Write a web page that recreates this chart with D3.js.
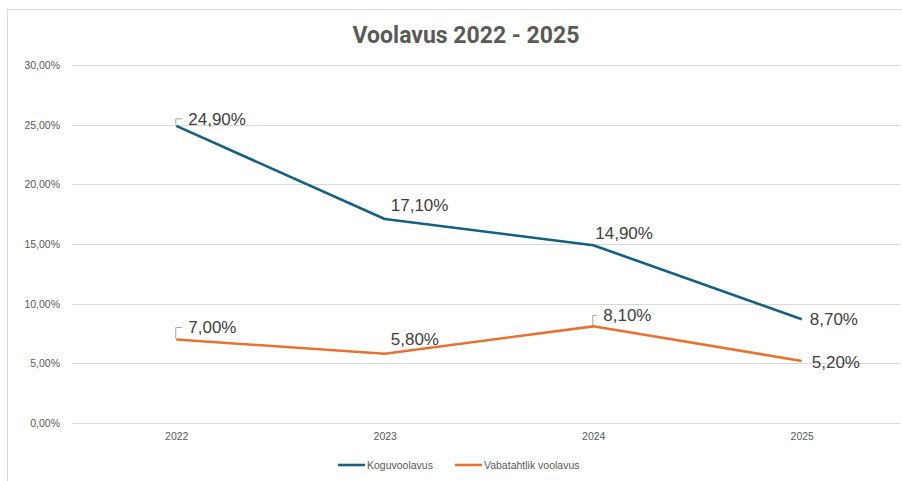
<!DOCTYPE html>
<html>
<head>
<meta charset="utf-8">
<script src="https://cdn.jsdelivr.net/npm/d3@7"></script>
<style>
  body { margin: 0; background: #fff; }
  text { font-family: "Liberation Sans", Arial, sans-serif; }
</style>
</head>
<body>
<div id="chart"></div>
<script>
// data
const years = ["2022", "2023", "2024", "2025"];
const koguvoolavus = [0.249, 0.171, 0.149, 0.087];
const vabatahtlik = [0.070, 0.058, 0.081, 0.052];
const seriesNames = ["Koguvoolavus", "Vabatahtlik voolavus"];
const yTicks = [0, 0.05, 0.10, 0.15, 0.20, 0.25, 0.30];

// label placement (dx, dy from the point, leader line or not)
const labelPlace = [
    [[12, -7, true], [6, -14, false], [2, -12, false], [8, 0, false]],
    [[12, -12, true], [6, -15, false], [10, -11, true], [10, 1, false]]
];

const W = 902, H = 481;
const MARGIN = { LEFT: 72, RIGHT: -4, TOP: 65, BOTTOM: 58 };
const colors = ["#156082", "#E97132"];

const et = d3.formatLocale({ decimal: ",", thousands: " ", grouping: [3], currency: ["", "€"] });
const pct = et.format(".2%");

const svg = d3.select("#chart").append("svg")
    .attr("width", W)
    .attr("height", H);

// chart area border (cropped at right and bottom)
svg.append("rect")
    .attr("x", 7.5).attr("y", 9.5)
    .attr("width", W + 20).attr("height", H + 20)
    .attr("fill", "#fff")
    .attr("stroke", "#d9d9d9");

svg.append("text")
    .attr("x", 466).attr("y", 43)
    .attr("text-anchor", "middle")
    .style("font-family", "'Liberation Sans Narrow', 'Roboto', sans-serif")
    .style("font-size", "23px")
    .style("font-weight", "bold")
    .attr("fill", "#595959")
    .text("Voolavus 2022 - 2025");

const x = d3.scalePoint()
    .domain(years)
    .range([MARGIN.LEFT, W - MARGIN.RIGHT])
    .padding(0.5);

const y = d3.scaleLinear()
    .domain([0, 0.30])
    .range([H - MARGIN.BOTTOM, MARGIN.TOP]);

// grid + y labels
const yAxis = svg.append("g")
    .attr("transform", `translate(${MARGIN.LEFT},0)`)
    .call(d3.axisLeft(y).tickValues(yTicks).tickFormat(pct)
        .tickSize(-(W - MARGIN.LEFT - 2)).tickPadding(12));
yAxis.select(".domain").remove();
yAxis.selectAll(".tick line").attr("stroke", "#d9d9d9").attr("shape-rendering", "crispEdges");
yAxis.selectAll(".tick text")
    .attr("fill", "#595959")
    .style("font-size", "10.5px");

// x labels
const xAxis = svg.append("g")
    .attr("transform", `translate(0,${H - MARGIN.BOTTOM})`)
    .call(d3.axisBottom(x).tickSize(0).tickPadding(10));
xAxis.select(".domain").remove();
xAxis.selectAll(".tick text")
    .attr("fill", "#595959")
    .style("font-size", "10.5px");

const line = d3.line()
    .x((d, i) => x(years[i]))
    .y(d => y(d));

[koguvoolavus, vabatahtlik].forEach((vals, s) => {
    svg.append("path")
        .datum(vals)
        .attr("d", line)
        .attr("fill", "none")
        .attr("stroke", colors[s])
        .attr("stroke-width", 2.6)
        .attr("stroke-linejoin", "round");

    const g = svg.append("g");
    vals.forEach((v, i) => {
        const px = x(years[i]), py = y(v);
        const [dx, dy, leader] = labelPlace[s][i];
        if (leader) {
            g.append("path")
                .attr("d", `M${px - 0.5},${py - 1}V${py + dy}H${px + dx - 6}`)
                .attr("fill", "none")
                .attr("stroke", "#a6a6a6")
                .attr("stroke-width", 1);
        }
        g.append("text")
            .attr("x", px + dx)
            .attr("y", py + dy)
            .attr("dy", "0.35em")
            .attr("fill", "#404040")
            .style("font-size", "17px")
            .text(pct(v));
    });
});

// legend
const legend = svg.append("g").attr("transform", `translate(338,465)`);
let lx = 0;
seriesNames.forEach((name, s) => {
    legend.append("line")
        .attr("x1", lx).attr("x2", lx + 27)
        .attr("stroke", colors[s])
        .attr("stroke-width", 2.6);
    const t = legend.append("text")
        .attr("x", lx + 29)
        .attr("dy", "0.35em")
        .attr("fill", "#595959")
        .style("font-size", "10.5px")
        .text(name);
    lx += 29 + t.node().getComputedTextLength() + 22;
});
</script>
</body>
</html>
